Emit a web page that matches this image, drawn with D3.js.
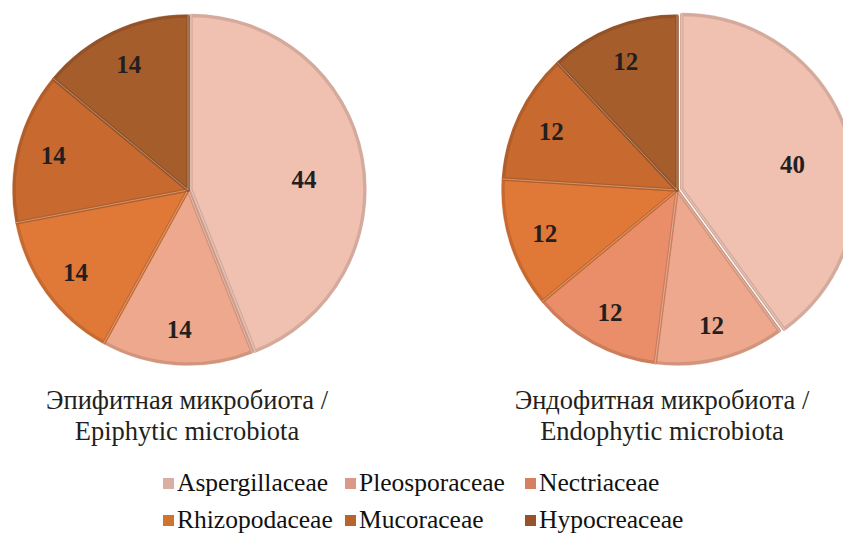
<!DOCTYPE html>
<html><head><meta charset="utf-8">
<script src="https://cdn.jsdelivr.net/npm/d3@7"></script>
</head><body style="margin:0">
<svg id="chart" width="843" height="535"></svg>
<script>
const families = ["Aspergillaceae","Pleosporaceae","Nectriaceae","Rhizopodaceae","Mucoraceae","Hypocreaceae"];
const colors = ["#F0C1B1","#EDA88E","#E98E68","#E07838","#C86A30","#A65D2C"];
const legendColors = ["#D9AEA3","#D99B88","#D68063","#D0732F","#B8652D","#985229"];
const epiphyticValues = [44,14,0,14,14,14];
const endophyticValues = [40,12,12,12,12,12];
const titlesRu = ["Эпифитная микробиота /","Эндофитная микробиота /"];
const titlesEn = ["Epiphytic microbiota","Endophytic microbiota"];

const FONT = "Liberation Serif";
const svg = d3.select("#chart").style("display","block");
const color = d3.scaleOrdinal().domain(families).range(colors);
const legendColor = d3.scaleOrdinal().domain(families).range(legendColors);
const R = 176;

const pies = [
  {values: epiphyticValues, cx: 188, cy: 190, explode: 3, tx: 187},
  {values: endophyticValues, cx: 677, cy: 190, explode: 5, tx: 662}
];

const pie = d3.pie().sort(null).value(d => d.value);
const arc = d3.arc().innerRadius(0).outerRadius(R - 2);

pies.forEach((p, i) => {
  const data = families.map((f, j) => ({family: f, value: p.values[j]})).filter(d => d.value > 0);
  const g = svg.append("g").attr("transform", `translate(${p.cx},${p.cy})`);
  const arcs = pie(data);
  const slices = g.selectAll("g.slice").data(arcs).enter().append("g")
    .attr("class","slice")
    .attr("transform", d => {
      if (d.index !== 0) return null;
      const a = (d.startAngle + d.endAngle) / 2;
      return `translate(${Math.sin(a) * p.explode},${-Math.cos(a) * p.explode})`;
    });
  slices.append("path")
    .attr("d", arc)
    .attr("fill", d => color(d.data.family))
    .attr("stroke", d => d3.color(color(d.data.family)).darker(0.35))
    .attr("stroke-width", 3.5)
    .attr("stroke-linejoin", "round");
  slices.append("path")
    .attr("d", d3.arc().innerRadius(0).outerRadius(R))
    .attr("fill", "none")
    .attr("stroke", "rgba(255,255,255,0.45)")
    .attr("stroke-width", 0.8);
});

function labelPos(d, p) {
  const big = d.data.value > 30;
  const a = (d.startAngle + d.endAngle) / 2 + (big ? 0.09 : 0);
  const r = big ? 0.645 * R : 0.79 * R;
  const ex = d.index === 0 ? p.explode : 0;
  return [p.cx + Math.sin(a) * (r + ex), p.cy - Math.cos(a) * (r + ex)];
}

pies.forEach((p, i) => {
  const data = families.map((f, j) => ({family: f, value: p.values[j]})).filter(d => d.value > 0);
  const arcs = pie(data);
  svg.selectAll(null).data(arcs).enter().append("text")
    .attr("x", d => labelPos(d, p)[0])
    .attr("y", d => labelPos(d, p)[1] + 9)
    .attr("text-anchor","middle")
    .attr("font-family", FONT)
    .attr("font-weight","bold")
    .attr("font-size", 25)
    .attr("fill","#231F20")
    .text(d => d.data.value);

  svg.append("text")
    .attr("x", p.tx).attr("y", 409)
    .attr("text-anchor","middle")
    .attr("font-family", FONT)
    .attr("font-size", 26.5)
    .attr("fill","#231F20")
    .text(titlesRu[i]);
  svg.append("text")
    .attr("x", p.tx).attr("y", 440)
    .attr("text-anchor","middle")
    .attr("font-family", FONT)
    .attr("font-size", 26.5)
    .attr("fill","#231F20")
    .text(titlesEn[i]);
});

const colX = [163, 345, 525];
const rowY = [484, 521];
families.forEach((f, j) => {
  const x = colX[j % 3], y = rowY[Math.floor(j / 3)];
  svg.append("rect").attr("x", x).attr("y", y - 6).attr("width", 11).attr("height", 11)
    .attr("fill", legendColor(f));
  svg.append("text").attr("x", x + 14).attr("y", y + 7)
    .attr("font-family", FONT)
    .attr("font-size", 25.5)
    .attr("fill","#111")
    .text(f);
});
</script>
</body></html>
